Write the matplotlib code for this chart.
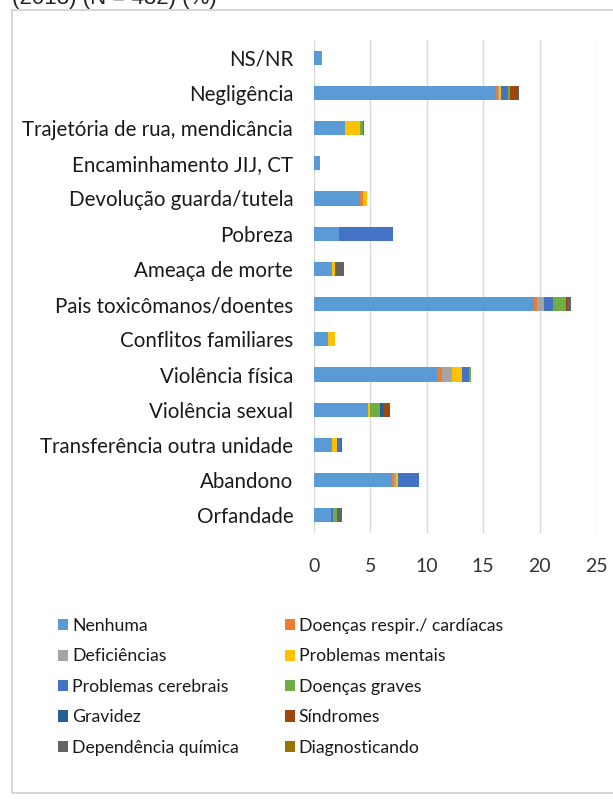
import numpy as np
import matplotlib
matplotlib.use("Agg")
import matplotlib.pyplot as plt
from matplotlib.patches import Rectangle

# categories, top to bottom as shown
categories = [
    "NS/NR", "Negligência", "Trajetória de rua, mendicância", "Encaminhamento JIJ, CT",
    "Devolução guarda/tutela", "Pobreza", "Ameaça de morte", "Pais toxicômanos/doentes",
    "Conflitos familiares", "Violência física", "Violência sexual",
    "Transferência outra unidade", "Abandono", "Orfandade",
]

series_names = [
    "Nenhuma", "Doenças respir./ cardíacas", "Deficiências", "Problemas mentais",
    "Problemas cerebrais", "Doenças graves", "Gravidez", "Síndromes",
    "Dependência química", "Diagnosticando",
]
colors = ["#5B9BD5", "#ED7D31", "#A5A5A5", "#FFC000", "#4472C4",
          "#70AD47", "#255E91", "#9E480E", "#636363", "#997300"]

nenhuma      = [0.6, 16.1, 2.75, 0.5, 4.1, 2.2, 1.6, 19.5, 1.25, 10.9, 4.8, 1.6, 6.9, 1.55]
resp_card    = [0, 0.2, 0, 0, 0.25, 0, 0, 0.25, 0, 0.45, 0, 0, 0.2, 0]
deficiencias = [0, 0.1, 0, 0, 0, 0, 0, 0.6, 0, 0.85, 0, 0, 0.15, 0]
mentais      = [0, 0.2, 1.35, 0, 0.35, 0, 0.25, 0, 0.6, 0.9, 0.15, 0.4, 0.2, 0]
cerebrais    = [0, 0.6, 0, 0, 0, 4.8, 0, 0.85, 0, 0.6, 0, 0.35, 1.85, 0.15]
graves       = [0.15, 0.2, 0.2, 0, 0, 0, 0, 1.15, 0, 0.25, 0.9, 0, 0, 0.35]
gravidez     = [0, 0, 0, 0, 0, 0, 0, 0, 0, 0, 0.3, 0, 0, 0]
sindromes    = [0, 0.7, 0, 0, 0, 0, 0, 0.2, 0, 0, 0.55, 0, 0, 0]
dep_quimica  = [0, 0.1, 0.15, 0, 0, 0, 0.8, 0.25, 0, 0, 0, 0.15, 0, 0.45]
diagnost     = [0] * 14

series = [nenhuma, resp_card, deficiencias, mentais, cerebrais,
          graves, gravidez, sindromes, dep_quimica, diagnost]

plt.rcParams["font.family"] = ["Lato", "DejaVu Sans"]

W, H = 613, 799
fig = plt.figure(figsize=(W / 100, H / 100), dpi=100)

# chart frame and cut-off title line
fig.patches.append(Rectangle((12 / W, 1 - 793 / H), (620 - 12) / W, (793 - 10) / H,
                             transform=fig.transFigure, fill=False,
                             edgecolor="#D0D0D0", linewidth=1.2))
fig.text(12 / W, 1 - 4 / H, "(2013) (N = 432) (%)", fontsize=16,
         family="Liberation Sans", va="baseline", ha="left", color="#222222")

ax = fig.add_axes([314 / W, 1 - 533 / H, (596 - 314) / W, (533 - 40) / H])

y = np.arange(len(categories))
left = np.zeros(len(categories))
for name, vals, col in zip(series_names, series, colors):
    vals = np.array(vals, dtype=float)
    ax.barh(y, vals, left=left, height=0.4, color=col, label=name)
    left += vals

ax.set_ylim(len(categories) - 0.5, -0.5)
ax.set_xlim(0, 25)
ax.set_xticks([0, 5, 10, 15, 20, 25])
ax.set_yticks(y)
ax.set_yticklabels(categories, fontsize=14.8, color="#1a1a1a")
ax.tick_params(axis="y", length=0, pad=15)
ax.tick_params(axis="x", length=0, pad=18, labelsize=14, colors="#333333")
ax.grid(axis="x", color="#D9D9D9", linewidth=1)
ax.set_axisbelow(True)
for s in ax.spines.values():
    s.set_visible(False)

handles, labels = ax.get_legend_handles_labels()
# reorder so legend reads row by row in two columns
order = [0, 2, 4, 6, 8, 1, 3, 5, 7, 9]
leg = fig.legend([handles[i] for i in order], [labels[i] for i in order],
                 loc="upper left", bbox_to_anchor=(42 / W, 1 - 602 / H),
                 ncol=2, frameon=False, fontsize=12.7, handlelength=0.6,
                 handleheight=0.6, handletextpad=0.2, columnspacing=2.6,
                 labelspacing=0.82, labelcolor="#1a1a1a")

fig.savefig("out.png", dpi=100)
